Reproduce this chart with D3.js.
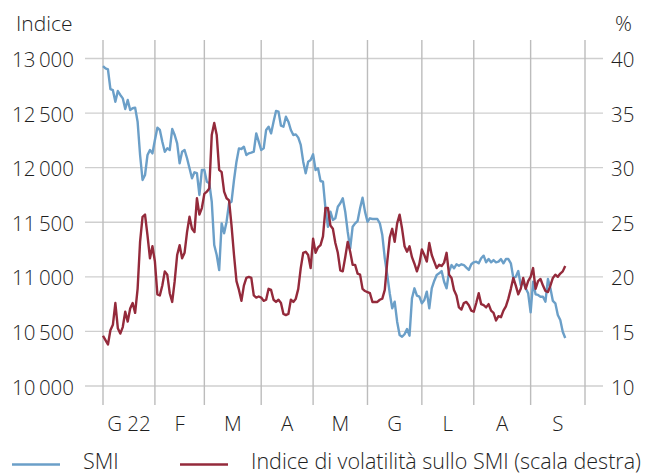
<!DOCTYPE html>
<html>
<head>
<meta charset="utf-8">
<script src="https://cdn.jsdelivr.net/npm/d3@7"></script>
<style>
  body { margin: 0; background: #fff; }
  svg text { font-family: "Open Sans", Roboto, "Liberation Sans", sans-serif; font-weight: 300; fill: #1e1e1e; }
</style>
</head>
<body>
<div id="chart"></div>
<script>
// Month labels under the axis
const monthLabels = ["G 22", "F", "M", "A", "M", "G", "L", "A", "S"];
// First day of every month, for the vertical grid
const monthStarts = ["2022-01-01", "2022-02-01", "2022-03-01", "2022-04-01", "2022-05-01",
    "2022-06-01", "2022-07-01", "2022-08-01", "2022-09-01", "2022-10-01"];
const leftTicks = [10000, 10500, 11000, 11500, 12000, 12500, 13000];
const rightTicks = [10, 15, 20, 25, 30, 35, 40];

// SMI, one value per weekday starting 3 Jan 2022
const smiValues = [
    12931, 12910, 12900, 12720, 12710, 12604, 12702, 12666, 12635, 12537,
    12620, 12528, 12544, 12550, 12421, 12116, 11887, 11933, 12116, 12162,
    12131, 12253, 12366, 12345, 12238, 12146, 12177, 12162, 12354, 12299,
    12223, 12040, 12146, 12162, 12086, 11994, 11903, 11958, 11949, 11750,
    11979, 11979, 11871, 11857, 11688, 11292, 11200, 11062, 11490, 11399,
    11505, 11674, 11688, 11887, 12055, 12177, 12171, 12192, 12116, 12131,
    12137, 12146, 12314, 12238, 12162, 12177, 12345, 12375, 12314, 12421,
    12519, 12513, 12384, 12375, 12467, 12421, 12345, 12299, 12305, 12275,
    12208, 12055, 11949, 12055, 12070, 12122, 11979, 11994, 11878, 11871,
    11628, 11459, 11597, 11521, 11536, 11642, 11674, 11719, 11597, 11413,
    11261, 11459, 11490, 11511, 11628, 11725, 11597, 11505, 11536, 11530,
    11530, 11530, 11490, 11383, 11170, 11017, 10850, 10712, 10772, 10589,
    10467, 10451, 10474, 10522, 10461, 10803, 10895, 10827, 10818, 10757,
    10788, 10864, 10712, 10895, 10962, 11017, 11032, 11053, 10955, 10895,
    11047, 11108, 11078, 11115, 11102, 11115, 11108, 11084, 11063, 11115,
    11133, 11139, 11124, 11170, 11194, 11133, 11163, 11133, 11154, 11133,
    11139, 11163, 11124, 11163, 11163, 11124, 10990, 11001, 11053, 10925,
    10955, 10895, 10850, 10675, 10955, 10840, 10834, 10818, 10818, 10772,
    10980, 10895, 10779, 10757, 10650, 10605, 10497, 10440
];

// Volatility index on the SMI (%), same weekdays
const vsmiValues = [
    14.6, 14.2, 13.8, 15.1, 15.6, 17.6, 15.3, 14.8, 15.4, 16.8,
    15.9, 17.1, 17.6, 16.7, 18.9, 23.2, 25.5, 25.7, 23.8, 21.7,
    22.8, 21.4, 18.4, 18.3, 19.2, 20.5, 20.2, 18.5, 17.7, 19.6,
    22.0, 22.9, 21.7, 22.2, 24.1, 25.5, 24.4, 24.1, 27.2, 25.7,
    26.3, 27.6, 27.8, 28.1, 33.0, 34.1, 33.0, 29.8, 29.6, 27.8,
    27.2, 27.0, 24.7, 22.0, 19.6, 18.8, 17.8, 19.2, 19.9, 20.0,
    19.9, 18.3, 18.1, 18.2, 18.1, 17.8, 17.9, 18.9, 18.8, 17.9,
    17.7, 17.9, 17.6, 16.6, 16.5, 16.6, 17.9, 17.7, 18.0, 18.9,
    20.8, 22.2, 22.3, 22.0, 20.8, 23.5, 22.2, 22.7, 22.9, 23.7,
    26.3, 26.3, 24.7, 24.4, 23.1, 22.2, 20.6, 20.5, 21.8, 23.2,
    22.3, 21.1, 21.1, 20.3, 20.2, 18.9, 18.7, 18.6, 18.5, 17.7,
    17.7, 17.7, 17.9, 18.0, 18.8, 21.4, 23.6, 24.4, 23.2, 24.9,
    25.7, 24.4, 22.8, 22.3, 22.8, 21.8, 21.2, 20.5, 21.2, 22.5,
    22.0, 21.4, 23.1, 22.0, 21.4, 20.8, 21.1, 21.0, 21.3, 22.2,
    20.2, 19.9, 18.8, 18.3, 17.2, 17.0, 17.6, 17.7, 17.4, 16.9,
    16.8, 17.6, 18.5, 17.5, 17.4, 17.2, 17.5, 16.9, 16.7, 16.0,
    16.4, 16.3, 16.9, 17.3, 18.0, 18.9, 19.9, 19.2, 18.4, 18.9,
    19.9, 18.9, 19.6, 20.0, 20.8, 18.9, 19.6, 19.8, 19.2, 18.7,
    18.6, 19.2, 19.9, 20.2, 20.0, 20.3, 20.5, 21.0
];

class VolaChart {
    constructor(_config) {
        this.config = {
            parentElement: _config.parentElement,
            width: 647,
            height: 475
        };
        this.initVis();
    }

    initVis() {
        let vis = this;

        // weekday number counted from the first trading day of the year
        const parse = d3.timeParse("%Y-%m-%d");
        const first = parse("2022-01-03");
        vis.weekdayIndex = d => d3.timeDay.range(first, d).filter(t => t.getDay() % 6 !== 0).length;
        vis.monthIdx = monthStarts.map(s => vis.weekdayIndex(parse(s)));

        vis.svg = d3.select(vis.config.parentElement)
            .append("svg")
            .attr("width", vis.config.width)
            .attr("height", vis.config.height);

        vis.xScale = d3.scaleLinear()
            .domain([0, vis.monthIdx[vis.monthIdx.length - 1]])
            .range([103, 585]);
        vis.yLeft = d3.scaleLinear().domain([10000, 13000]).range([386, 58.5]);
        vis.yRight = d3.scaleLinear().domain([10, 40]).range([386, 58.5]);

        vis.fmt = d3.formatLocale({decimal: ",", thousands: "\u2009", grouping: [3], currency: ["", ""]}).format(",d");

        vis.renderVis();
    }

    renderVis() {
        let vis = this;

        // horizontal grid
        vis.svg.append("g")
            .selectAll("line")
            .data(leftTicks)
            .join("line")
            .attr("x1", 85).attr("x2", 603)
            .attr("y1", d => vis.yLeft(d)).attr("y2", d => vis.yLeft(d))
            .attr("stroke", "#cfcfcf")
            .attr("stroke-width", 1.4);

        // vertical grid at month starts
        vis.svg.append("g")
            .selectAll("line")
            .data(vis.monthIdx)
            .join("line")
            .attr("x1", d => vis.xScale(d)).attr("x2", d => vis.xScale(d))
            .attr("y1", 40).attr("y2", 405)
            .attr("stroke", "#bcbcbc")
            .attr("stroke-width", 1.4);

        // left axis labels
        vis.svg.append("g")
            .selectAll("text")
            .data(leftTicks)
            .join("text")
            .attr("x", 74)
            .attr("y", d => vis.yLeft(d) + 8.5)
            .attr("text-anchor", "end")
            .style("font-size", "20.5px")
            .text(d => vis.fmt(d));

        // right axis labels
        vis.svg.append("g")
            .selectAll("text")
            .data(rightTicks)
            .join("text")
            .attr("x", 611)
            .attr("y", d => vis.yRight(d) + 8.5)
            .style("font-size", "20.5px")
            .text(d => d);

        vis.svg.append("text")
            .attr("x", 16).attr("y", 31)
            .style("font-size", "21px")
            .text("Indice");

        vis.svg.append("text")
            .attr("x", 615).attr("y", 31)
            .style("font-size", "21px")
            .text("%");

        // month labels centred in each month
        vis.svg.append("g")
            .selectAll("text")
            .data(monthLabels)
            .join("text")
            .attr("x", (d, i) => vis.xScale((vis.monthIdx[i] + vis.monthIdx[i + 1]) / 2))
            .attr("y", 431)
            .attr("text-anchor", "middle")
            .style("font-size", "20.5px")
            .text(d => d);

        // lines
        const smiLine = d3.line()
            .x((d, i) => vis.xScale(i))
            .y(d => vis.yLeft(d));
        const vsmiLine = d3.line()
            .x((d, i) => vis.xScale(i))
            .y(d => vis.yRight(d));

        vis.svg.append("path")
            .datum(smiValues)
            .attr("d", smiLine)
            .attr("fill", "none")
            .attr("stroke", "#6b9fc8")
            .attr("stroke-width", 2.4)
            .attr("stroke-linejoin", "round");

        vis.svg.append("path")
            .datum(vsmiValues)
            .attr("d", vsmiLine)
            .attr("fill", "none")
            .attr("stroke", "#942a3b")
            .attr("stroke-width", 2.4)
            .attr("stroke-linejoin", "round");

        // legend
        const legend = [
            {label: "SMI", color: "#6b9fc8", x: 12},
            {label: "Indice di volatilità sullo SMI (scala destra)", color: "#942a3b", x: 180}
        ];
        const lg = vis.svg.append("g")
            .selectAll("g")
            .data(legend)
            .join("g")
            .attr("transform", d => `translate(${d.x},464.5)`);
        lg.append("line")
            .attr("x1", 0).attr("x2", 48)
            .attr("stroke", d => d.color)
            .attr("stroke-width", 2.4);
        lg.append("text")
            .attr("x", 71).attr("y", 4)
            .style("font-size", "21.5px")
            .text(d => d.label);
    }
}

new VolaChart({parentElement: "#chart"});
</script>
</body>
</html>
